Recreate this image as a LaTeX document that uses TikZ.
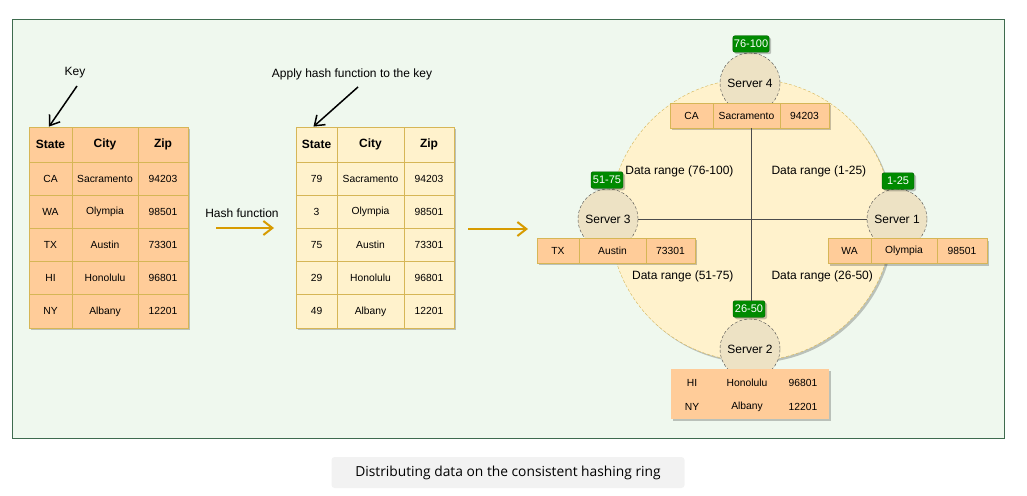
\documentclass[tikz,border=0pt]{standalone}
\usepackage{fontspec}
\setmainfont{Liberation Sans}
\newfontfamily\capfont{Open Sans}
\usetikzlibrary{arrows.meta,shadows}
\definecolor{bgGreen}{HTML}{EFF8EE}
\definecolor{frameGreen}{HTML}{3E6B4E}
\definecolor{peach}{HTML}{FFCC99}
\definecolor{cream}{HTML}{FFF2CC}
\definecolor{tblGold}{HTML}{D6B656}
\definecolor{servFill}{HTML}{EDE2C4}
\definecolor{okGreen}{HTML}{008A00}
\definecolor{darkGreen}{HTML}{005700}
\definecolor{hashGold}{HTML}{D79B00}
\definecolor{capGrey}{HTML}{F2F2F2}
\tikzset{
  shade/.style={drop shadow={shadow xshift=2pt, shadow yshift=-2pt, fill=black, opacity=0.22}},
  cell/.style={draw=tblGold, line width=0.8pt, fill=#1, inner sep=0pt, minimum height=33.2pt,
    font=\fontsize{10.3}{12}\selectfont, shade},
  cell/.default=peach,
  head/.style={minimum height=35pt, font=\fontsize{12}{14}\selectfont\bfseries},
  scell/.style={cell, minimum height=25pt},
  server/.style={circle, draw=black!70, densely dashed, fill=servFill, minimum size=60pt,
    inner sep=0pt, font=\fontsize{12}{14}\selectfont},
  rangetag/.style={fill=okGreen, draw=darkGreen, rounded corners=2pt, text=white, inner sep=1pt,
    minimum width=32pt, minimum height=16.5pt, font=\fontsize{11}{13}\selectfont, shade},
  lbl/.style={font=\fontsize{12}{14}\selectfont},
  keyarrow/.style={draw=black, line width=1.5pt, -{Straight Barb[length=9pt,width=13pt]}},
  hasharrow/.style={draw=hashGold, line width=2pt, -{Straight Barb[length=9pt,width=14pt]}},
}
\begin{document}
\begin{tikzpicture}[x=1pt,y=-1pt]
    \useasboundingbox (0,0) rectangle (1027,495);
    \draw[frameGreen, fill=bgGreen] (12,19) rectangle (1004,438);

    % input table
    \node[cell, head, minimum width=43pt] (k-h1) at (50.5,144.5) {State};
    \node[cell, head, minimum width=66pt] (k-h2) at (105,144.5) {City};
    \node[cell, head, minimum width=50pt] (k-h3) at (163,144.5) {Zip};
    \foreach \a/\b/\c [count=\r] in {CA/Sacramento/94203, WA/Olympia/98501,
        TX/Austin/73301, HI/Honolulu/96801, NY/Albany/12201}{
        \node[cell, minimum width=43pt] (k-\r-1) at (50.5,{145.4+33.2*\r}) {\a};
        \node[cell, minimum width=66pt] (k-\r-2) at (105,{145.4+33.2*\r}) {\b};
        \node[cell, minimum width=50pt] (k-\r-3) at (163,{145.4+33.2*\r}) {\c};
    }

    % hashed table
    \node[cell=cream, head, minimum width=41pt] (m-h1) at (316.5,144.5) {State};
    \node[cell=cream, head, minimum width=67pt] (m-h2) at (370.5,144.5) {City};
    \node[cell=cream, head, minimum width=50pt] (m-h3) at (429,144.5) {Zip};
    \foreach \a/\b/\c [count=\r] in {79/Sacramento/94203, 3/Olympia/98501,
        75/Austin/73301, 29/Honolulu/96801, 49/Albany/12201}{
        \node[cell=cream, minimum width=41pt] (m-\r-1) at (316.5,{145.4+33.2*\r}) {\a};
        \node[cell=cream, minimum width=67pt] (m-\r-2) at (370.5,{145.4+33.2*\r}) {\b};
        \node[cell=cream, minimum width=50pt] (m-\r-3) at (429,{145.4+33.2*\r}) {\c};
    }

    \node[lbl] (keylbl) at (75,73) {Key};
    \node[lbl] (applylbl) at (352,74) {Apply hash function to the key};
    \node[lbl] (hashlbl) at (242,213) {Hash function};
    \coordinate (keyfrom) at (77,86);
    \coordinate (applyfrom) at (358,87);
    \draw[keyarrow] (keyfrom) -- ([xshift=-1.5pt]k-h1.north);
    \draw[keyarrow] (applyfrom) -- ([xshift=-3pt]m-h1.north);
    \coordinate (h1a) at (216,228);
    \coordinate (h1b) at (274,228);
    \coordinate (h2a) at (468,229);
    \coordinate (h2b) at (528,229);
    \draw[hasharrow] (h1a) -- (h1b);
    \draw[hasharrow] (h2a) -- (h2b);

    % ring
    \node[circle, draw=tblGold, densely dashed, fill=cream, minimum size=282pt, shade] (ring) at (751,220) {};
    \node[server] (s4) at (750,83) {Server 4};
    \node[server] (s3) at (608,219) {Server 3};
    \node[server] (s1) at (897,219) {Server 1};
    \node[server] (s2) at (750,349) {Server 2};

    \node[rangetag] (g4) at (751,44) {76-100};
    \node[rangetag] (g3) at (607,180) {51-75};
    \node[rangetag] (g1) at (898,181) {1-25};
    \node[rangetag] (g2) at (749,309) {26-50};

    % server tables
    \node[scell, minimum width=43pt] (t4-1) at (691.5,115.5) {CA};
    \node[scell, minimum width=67pt] (t4-2) at (746.5,115.5) {Sacramento};
    \node[scell, minimum width=49pt] (t4-3) at (804.5,115.5) {94203};
    \node[scell, minimum width=42pt] (t3-1) at (558,250.5) {TX};
    \node[scell, minimum width=67pt] (t3-2) at (612.5,250.5) {Austin};
    \node[scell, minimum width=49pt] (t3-3) at (670.5,250.5) {73301};
    \node[scell, minimum width=43pt] (t1-1) at (849.5,251) {WA};
    \node[scell, minimum width=66pt] (t1-2) at (904,251) {Olympia};
    \node[scell, minimum width=50pt] (t1-3) at (962,251) {98501};
    \node[fill=peach, minimum width=158pt, minimum height=50pt, inner sep=0pt, shade] (t2) at (750,394) {};
    \foreach \a/\b/\c [count=\r] in {HI/Honolulu/96801, NY/Albany/12201}{
        \node[font=\fontsize{10.3}{12}\selectfont] (t2-\r-1) at (692,{359+24*\r}) {\a};
        \node[font=\fontsize{10.3}{12}\selectfont] (t2-\r-2) at (747,{359+24*\r}) {\b};
        \node[font=\fontsize{10.3}{12}\selectfont] (t2-\r-3) at (803,{359+24*\r}) {\c};
    }

    \node[lbl, anchor=east] (d4) at (737,171) {Data range (76-100)};
    \node[lbl, anchor=west] (d1) at (768,171) {Data range (1-25)};
    \node[lbl, anchor=east] (d3) at (737,276) {Data range (51-75)};
    \node[lbl, anchor=west] (d2) at (768,276) {Data range (26-50)};

    \draw[black!70, thick] (ring.center |- t4-2.south) -- (ring.center |- g2.north);
    \draw[black!70, thick] (s3.east) -- (s1.west);

    % caption
    \node[fill=capGrey, rounded corners=3pt, minimum width=353pt, minimum height=31pt,
        font=\capfont\fontsize{13.8}{16}\selectfont] (caption) at (508,472.5)
        {Distributing data on the consistent hashing ring};
\end{tikzpicture}
\end{document}
